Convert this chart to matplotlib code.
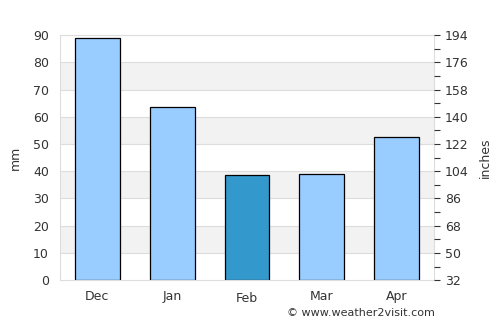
import matplotlib.pyplot as plt
from matplotlib.ticker import MultipleLocator

# rainfall per month (mm)
months = ['Dec', 'Jan', 'Feb', 'Mar', 'Apr']
rain_mm = [89.1, 63.5, 38.8, 39.1, 52.5]
highlight = 'Feb'

left_ticks = [0, 10, 20, 30, 40, 50, 60, 70, 80, 90]
right_labels = ['32', '50', '68', '86', '104', '122', '140', '158', '176', '194']

text_col = '#333333'
grid_col = '#dddddd'

fig = plt.figure(figsize=(5, 3.25), dpi=100)
ax = fig.add_axes([0.12, 0.138, 0.748, 0.754])

# alternating background bands
for lo in range(10, 90, 20):
    ax.axhspan(lo, lo + 10, color='#f2f2f2', zorder=0, lw=0)
for t in left_ticks[1:]:
    ax.axhline(t, color=grid_col, lw=0.8, zorder=0.5)

colors = ['#3399cc' if m == highlight else '#99ccff' for m in months]
ax.bar(range(len(months)), rain_mm, width=0.6, color=colors,
       edgecolor='black', linewidth=0.9, zorder=2)

ax.set_xlim(-0.5, len(months) - 0.5)
ax.set_ylim(0, 90)
ax.set_yticks(left_ticks)
ax.set_xticks(range(len(months)))
ax.set_xticklabels(months)
for lab in ax.get_xticklabels():
    if lab.get_text() == highlight:
        lab.set_y(-0.008)
ax.tick_params(axis='both', length=0, labelsize=9, colors=text_col, pad=7)
ax.tick_params(axis='y', pad=8)
ax.set_ylabel('mm', fontsize=9, color=text_col, labelpad=8)
for s in ax.spines.values():
    s.set_color(grid_col)

ax2 = ax.twinx()
ax2.set_ylim(0, 90)
ax2.set_yticks(left_ticks)
ax2.set_yticklabels(right_labels)
ax2.yaxis.set_minor_locator(MultipleLocator(5))
ax2.tick_params(axis='y', which='major', length=4, width=0.8, colors=text_col,
                labelsize=9, pad=4)
ax2.tick_params(axis='y', which='minor', length=4, width=0.8, color=text_col)
ax2.set_ylabel('inches', fontsize=9, color=text_col, labelpad=7)
for s in ax2.spines.values():
    s.set_visible(False)

fig.text(0.87, 0.02, '\u00a9 www.weather2visit.com', ha='right', va='bottom',
         fontsize=8, color=text_col)

fig.savefig('out.png', dpi=100)
